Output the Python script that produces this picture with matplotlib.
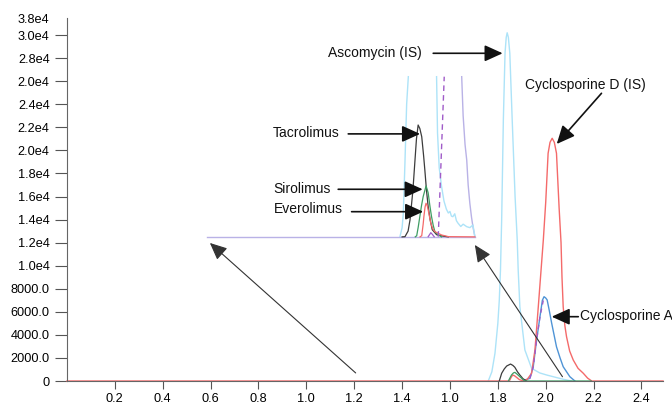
import matplotlib
matplotlib.use("Agg")
import matplotlib.pyplot as plt

plt.rcParams['font.family'] = ['Liberation Sans', 'DejaVu Sans']

# ---------------- data ----------------
# main chromatogram traces (x in min, y in counts)
asc_x = [1.760, 1.775, 1.788, 1.800, 1.806, 1.811, 1.816, 1.823, 1.830, 1.835, 1.839, 1.844, 1.850, 1.860,
         1.872, 1.881, 1.885, 1.892, 1.913, 1.941, 1.975, 2.004, 2.073, 2.108]
asc_y = [0, 800, 2400, 5000, 7000, 9630, 14000, 22640, 28420, 29800, 30200, 29800, 28420, 22640,
         16000, 12230, 9630, 6440, 2690, 1100, 700, 520, 150, 0]

csd_x = [0.0, 1.848, 1.855, 1.862, 1.870, 1.878, 1.890, 1.906, 1.923, 1.941, 1.955, 1.969, 1.990, 2.000,
         2.010, 2.018, 2.027, 2.036, 2.045, 2.056, 2.064, 2.068, 2.073, 2.080, 2.087, 2.100, 2.115,
         2.135, 2.157, 2.175, 2.192, 2.49]
csd_y = [0, 0, 300, 520, 450, 320, 120, 0, 150, 670, 2690, 6440, 12230, 15500,
         19750, 20700, 21050, 20700, 19750, 15000, 12000, 9000, 6440, 4800, 3840, 2600, 1820,
         1100, 670, 250, 0, 0]

csa_x = [1.900, 1.934, 1.948, 1.962, 1.976, 1.986, 1.993, 2.000, 2.006, 2.015, 2.025, 2.045, 2.060,
         2.073, 2.101, 2.122]
csa_y = [0, 230, 1240, 3560, 5580, 7000, 7310, 7200, 7030, 6100, 5000, 2970, 2000, 1240, 370, 0]

tac_x = [1.806, 1.816, 1.827, 1.837, 1.853, 1.863, 1.871, 1.882, 1.892, 1.905, 1.920]
tac_y = [0, 670, 1050, 1300, 1470, 1350, 1190, 800, 520, 200, 0]

sir_x = [1.844, 1.857, 1.865, 1.871, 1.880, 1.892, 1.905, 1.913, 2.190]
sir_y = [0, 520, 700, 750, 600, 370, 120, 0, 0]

# inset overlay (drawn on a baseline of 12500 counts)
ins_base_x = [0.586, 1.704]
ins_base_y = [12500, 12500]

ins_tac_x = [1.400, 1.412, 1.425, 1.433, 1.445, 1.451, 1.460, 1.467, 1.474, 1.482, 1.490, 1.495, 1.502,
             1.509, 1.517, 1.526, 1.544, 1.560, 1.593]
ins_tac_y = [12500, 12515, 13000, 13964, 16500, 18300, 21000, 22200, 21900, 21188, 19500, 18300, 16500,
             15117, 14000, 13122, 12689, 12600, 12500]

ins_sir_x = [1.455, 1.461, 1.467, 1.474, 1.481, 1.488, 1.500, 1.505, 1.509, 1.516, 1.523, 1.530, 1.537,
             1.550, 1.565]
ins_sir_y = [12500, 12600, 13300, 14250, 15200, 15985, 16912, 16600, 16305, 15200, 14250, 13500, 12949,
             12700, 12500]

ins_eve_x = [1.475, 1.482, 1.488, 1.491, 1.496, 1.500, 1.505, 1.509, 1.520, 1.528, 1.537, 1.565, 1.593,
             1.704]
ins_eve_y = [12500, 12600, 13600, 14250, 15100, 15412, 15200, 14831, 13677, 13200, 12949, 12663, 12520,
             12500]

ins_asc_l_x = [1.391, 1.400, 1.405, 1.412, 1.419, 1.426]
ins_asc_l_y = [12515, 13300, 14500, 19000, 24000, 26390]
ins_asc_r_x = [1.544, 1.546, 1.548, 1.555, 1.565, 1.575, 1.585, 1.593, 1.600, 1.606, 1.612, 1.620,
               1.627, 1.633, 1.645, 1.655, 1.670, 1.683, 1.696, 1.704]
ins_asc_r_y = [26390, 24000, 21509, 18500, 16851, 15600, 14900, 14571, 14700, 14300, 14250, 14500,
               13900, 13703, 13400, 13600, 13383, 13300, 13530, 12515]

ins_lav_x = [1.649, 1.655, 1.663, 1.670, 1.676, 1.683, 1.690, 1.696, 1.704]
ins_lav_y = [26390, 23000, 20500, 19167, 17000, 15412, 14200, 13383, 12515]

ins_pdash_x = [1.551, 1.576]
ins_pdash_y = [12515, 26390]
ins_pbump_x = [1.509, 1.515, 1.520, 1.527, 1.534]
ins_pbump_y = [12515, 12700, 12862, 12700, 12515]

main_pdash_x = [1.934, 1.948, 1.962, 1.976, 1.993]
main_pdash_y = [230, 1240, 3560, 5580, 7310]

# ticks
x_ticks = [0.2, 0.4, 0.6, 0.8, 1.0, 1.2, 1.4, 1.6, 1.8, 2.0, 2.2, 2.4]
x_labels = ['0.2', '0.4', '0.6', '0.8', '1.0', '1.2', '1.4', '1.0', '1.8', '2.0', '2.2', '2.4']
y_ticks = [0, 2000, 4000, 6000, 8000, 10000, 12000, 14000, 16000, 18000, 20000, 22000, 24000,
           26000, 28000, 30000, 31450]
y_labels = ['0', '2000.0', '4000.0', '6000.0', '8000.0', '1.0e4', '1.2e4', '1.4e4', '1.6e4', '1.8e4',
            '2.0e4', '2.2e4', '2.4e4', '2.0e4', '2.8e4', '3.0e4', '3.8e4']

# annotations: (text, text_xy, ha, arrow_start, arrow_tip)
labels = [
    ("Ascomycin (IS)", (1.482, 28420), 'right', (1.530, 28420), (1.820, 28420)),
    ("Cyclosporine D (IS)", (2.164, 25670), 'center', (2.233, 24950), (2.046, 20555)),
    ("Tacrolimus", (0.859, 21483), 'left', (1.175, 21430), (1.475, 21430)),
    ("Sirolimus", (0.862, 16626), 'left', (1.133, 16626), (1.486, 16626)),
    ("Everolimus", (0.865, 14918), 'left', (1.189, 14683), (1.488, 14683)),
    ("Cyclosporine A", (2.143, 5638), 'left', (2.136, 5577), (2.025, 5577)),
]
connectors = [((1.206, 700), (0.597, 11970)), ((2.070, 370), (1.704, 11800))]

# ---------------- colours ----------------
c_cyan = '#ade3f8'
c_red = '#f46a6a'
c_blue = '#4f94d6'
c_black = '#3c3c3c'
c_green = '#3f9d63'
c_purple = '#a05bc8'
c_lav = '#b9b2e6'

fig = plt.figure(figsize=(6.72, 4.04), dpi=100)
ax = fig.add_axes([67 / 672, 23 / 404, 596 / 672, 363 / 404])

# main traces
ax.plot(asc_x, asc_y, color=c_cyan, lw=1.0)
ax.plot(ins_lav_x, ins_lav_y, color=c_lav, lw=1.0)
ax.plot(ins_asc_l_x, ins_asc_l_y, color=c_cyan, lw=1.0)
ax.plot(ins_asc_r_x, ins_asc_r_y, color=c_cyan, lw=1.0)
ax.plot(ins_base_x, ins_base_y, color=c_lav, lw=1.0)
ax.plot(csa_x, csa_y, color=c_blue, lw=1.0)
ax.plot(csd_x, csd_y, color=c_red, lw=1.0, clip_on=False)
ax.plot(main_pdash_x, main_pdash_y, color=c_purple, lw=1.0, ls=(0, (3, 3)))
ax.plot(tac_x, tac_y, color=c_black, lw=0.9)
ax.plot(sir_x, sir_y, color=c_green, lw=0.9)

# inset traces
ax.plot(ins_tac_x, ins_tac_y, color=c_black, lw=0.9)
ax.plot(ins_sir_x, ins_sir_y, color=c_green, lw=0.9)
ax.plot(ins_eve_x, ins_eve_y, color=c_red, lw=0.9)
ax.plot(ins_pbump_x, ins_pbump_y, color=c_purple, lw=0.9)
ax.plot(ins_pdash_x, ins_pdash_y, color=c_purple, lw=1.0, ls=(0, (4, 3)))

head = '-|>,head_length=0.55,head_width=0.25'

# connectors
for start, tip in connectors:
    ax.annotate('', xy=tip, xytext=start,
                arrowprops=dict(arrowstyle=head, mutation_scale=19, color='#333333', lw=0.8,
                                shrinkA=0, shrinkB=0))

# labelled arrows
for txt, txy, ha, a0, a1 in labels:
    ax.text(txy[0], txy[1], txt, ha=ha, va='center', fontsize=10, color='#111111')
    ax.annotate('', xy=a1, xytext=a0,
                arrowprops=dict(arrowstyle=head, mutation_scale=20, color='#111111', lw=1.2,
                                shrinkA=0, shrinkB=0))

ax.set_xlim(0, 2.49)
ax.set_ylim(0, 31480)
ax.set_xticks(x_ticks)
ax.set_xticklabels(x_labels, fontsize=9.2)
ax.set_yticks(y_ticks)
ax.set_yticklabels(y_labels, fontsize=9.2)
ax.tick_params(axis='x', length=6, width=0.8, color='#555555', pad=2.5)
ax.tick_params(axis='y', length=8.5, width=0.8, color='#555555', pad=4)
ax.yaxis.get_major_ticks()[-1].tick1line.set_visible(False)
for s in ['top', 'right']:
    ax.spines[s].set_visible(False)
ax.spines['left'].set_color('#666666')
ax.spines['bottom'].set_color('#666666')
ax.spines['left'].set_linewidth(0.8)

fig.savefig('out.png', dpi=100)
